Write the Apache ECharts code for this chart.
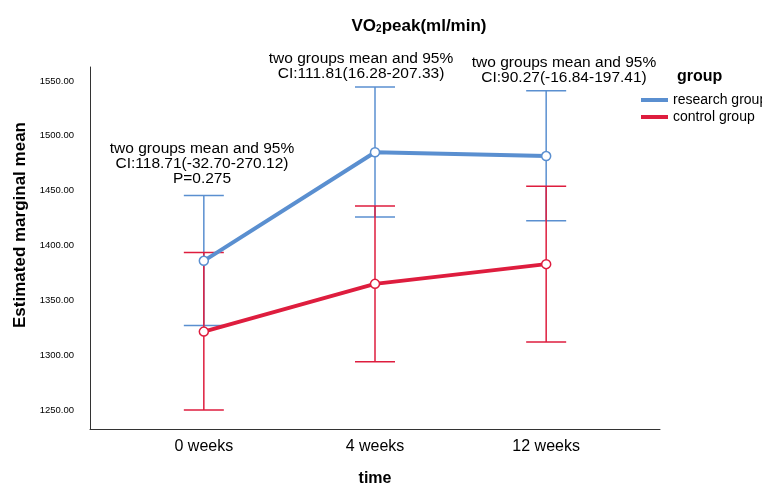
<!DOCTYPE html>
<html>
<head>
<meta charset="utf-8">
<script src="https://cdn.jsdelivr.net/npm/echarts@6/dist/echarts.min.js"></script>
<style>html,body{margin:0;padding:0;background:#fff}#c{width:762px;height:486px}</style>
</head>
<body>
<div id="c"></div>
<script>
const categories = ['0 weeks', '4 weeks', '12 weeks'];
const researchMean = [1386, 1485, 1481.5];
const researchLower = [1327, 1426, 1422.5];
const researchUpper = [1445.5, 1544.5, 1541];
const controlMean = [1321.5, 1365, 1383];
const controlLower = [1250, 1294, 1312];
const controlUpper = [1393.5, 1436, 1454];
const yTicks = [1250, 1300, 1350, 1400, 1450, 1500, 1550];
const seriesNames = ['research group', 'control group'];
const annotation0 = ['two groups mean and 95%', 'CI:118.71(-32.70-270.12)', 'P=0.275'];
const annotation1 = ['two groups mean and 95%', 'CI:111.81(16.28-207.33)'];
const annotation2 = ['two groups mean and 95%', 'CI:90.27(-16.84-197.41)'];

const BLUE = '#5A8FD0';
const RED = '#DE1D3E';
const FONT = 'Liberation Sans, Arial, Helvetica, sans-serif';

function errBar(color) {
  return function (params, api) {
    const x = api.value(0), lo = api.value(1), hi = api.value(2);
    const a = api.coord([x, lo]), b = api.coord([x, hi]);
    const hw = 20;
    const st = { stroke: color, lineWidth: 1.5 };
    return {
      type: 'group',
      children: [
        { type: 'line', shape: { x1: a[0], y1: a[1], x2: b[0], y2: b[1] }, style: st },
        { type: 'line', shape: { x1: a[0] - hw, y1: a[1], x2: a[0] + hw, y2: a[1] }, style: st },
        { type: 'line', shape: { x1: b[0] - hw, y1: b[1], x2: b[0] + hw, y2: b[1] }, style: st }
      ]
    };
  };
}

const chart = echarts.init(document.getElementById('c'), null, { renderer: 'canvas' });
chart.setOption({
  animation: false,
  backgroundColor: '#fff',
  textStyle: { fontFamily: FONT, color: '#000' },
  grid: { left: 90, right: 102, top: 67, bottom: 57, containLabel: false, outerBoundsMode: 'none' },
  xAxis: {
    type: 'value', min: -0.665, max: 2.665,
    axisLine: { show: true, onZero: false, lineStyle: { color: '#333', width: 1 } },
    axisTick: { show: false },
    splitLine: { show: false },
    axisLabel: {
      customValues: [0, 1, 2],
      formatter: v => categories[Math.round(v)],
      fontSize: 16, color: '#000', margin: 10, fontFamily: FONT
    },
    name: 'time', nameLocation: 'middle', nameGap: 42,
    nameTextStyle: { fontSize: 16, fontWeight: 'bold', color: '#000', fontFamily: FONT }
  },
  yAxis: {
    type: 'value', min: 1232.7, max: 1562.7,
    axisLine: { show: true, onZero: false, lineStyle: { color: '#333', width: 1 } },
    axisTick: { show: false },
    splitLine: { show: false },
    axisLabel: {
      customValues: yTicks,
      formatter: v => v.toFixed(2),
      fontSize: 9.5, color: '#000', margin: 16,
      fontFamily: FONT
    }
  },
  legend: {
    orient: 'vertical', left: 641, top: 93, itemGap: 3, padding: 0,
    itemWidth: 27, itemHeight: 4, icon: 'rect',
    data: [
      { name: seriesNames[0], itemStyle: { color: BLUE, borderWidth: 0 } },
      { name: seriesNames[1], itemStyle: { color: RED, borderWidth: 0 } }
    ],
    textStyle: { fontSize: 14, color: '#000', fontFamily: FONT }
  },
  graphic: [
    { type: 'text', x: 419, y: 26, style: { text: 'VO{s|2}peak(ml/min)', align: 'center', verticalAlign: 'middle',
      font: 'bold 17px ' + FONT, fill: '#000',
      rich: { s: { fontSize: 10, fontWeight: 'bold', verticalAlign: 'bottom', padding: [7, 0, 0, 0], fontFamily: FONT } } } },
    { type: 'text', x: 20, y: 225, rotation: Math.PI / 2, style: { text: 'Estimated marginal mean', align: 'center', verticalAlign: 'middle',
      font: 'bold 17px ' + FONT, fill: '#000' } },
    { type: 'text', x: 677, y: 77, style: { text: 'group', align: 'left', verticalAlign: 'middle', font: 'bold 16px ' + FONT, fill: '#000' } },
    { type: 'text', x: 202, y: 141, style: { text: annotation0.join('\n'), align: 'center', verticalAlign: 'top', font: '15.5px ' + FONT, lineHeight: 15, fill: '#000' } },
    { type: 'text', x: 361, y: 51, style: { text: annotation1.join('\n'), align: 'center', verticalAlign: 'top', font: '15.5px ' + FONT, lineHeight: 15, fill: '#000' } },
    { type: 'text', x: 564, y: 55, style: { text: annotation2.join('\n'), align: 'center', verticalAlign: 'top', font: '15.5px ' + FONT, lineHeight: 15, fill: '#000' } }
  ],
  series: [
    {
      type: 'custom', name: 'research CI', renderItem: errBar(BLUE), z: 1,
      encode: { x: 0, y: [1, 2] },
      data: researchLower.map((l, i) => [i, l, researchUpper[i]])
    },
    {
      type: 'custom', name: 'control CI', renderItem: errBar(RED), z: 1,
      encode: { x: 0, y: [1, 2] },
      data: controlLower.map((l, i) => [i, l, controlUpper[i]])
    },
    {
      type: 'line', name: seriesNames[0], z: 3, color: BLUE,
      data: researchMean.map((v, i) => [i, v]),
      lineStyle: { color: BLUE, width: 4 },
      symbol: 'circle', symbolSize: 9,
      itemStyle: { color: '#fff', borderColor: BLUE, borderWidth: 1.5 }
    },
    {
      type: 'line', name: seriesNames[1], z: 3, color: RED,
      data: controlMean.map((v, i) => [i, v]),
      lineStyle: { color: RED, width: 4 },
      symbol: 'circle', symbolSize: 9,
      itemStyle: { color: '#fff', borderColor: RED, borderWidth: 1.5 }
    }
  ]
});
</script>
</body>
</html>
